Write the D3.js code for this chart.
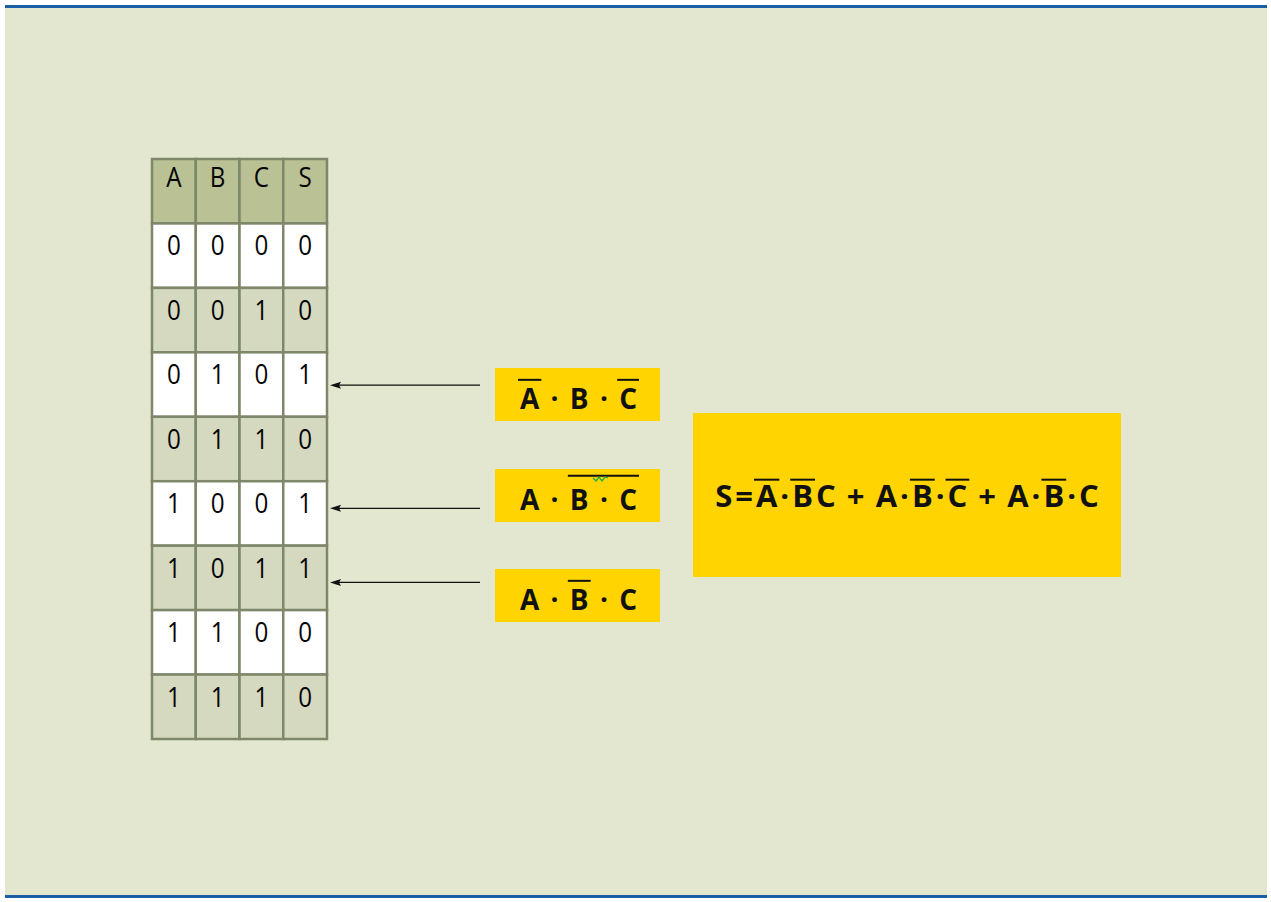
<!DOCTYPE html>
<html><head><meta charset="utf-8">
<script src="https://cdn.jsdelivr.net/npm/d3@7/dist/d3.min.js"></script>
<style>html,body{margin:0;padding:0;background:#fff;}svg{display:block;}</style>
</head><body>
<svg id="chart" width="1271" height="902"></svg>
<script>
// ---- data ----
const columns = ["A", "B", "C", "S"];
const truthRows = [
  [0, 0, 0, 0],
  [0, 0, 1, 0],
  [0, 1, 0, 1],
  [0, 1, 1, 0],
  [1, 0, 0, 1],
  [1, 0, 1, 1],
  [1, 1, 0, 0],
  [1, 1, 1, 0]
];
// minterm labels (token, overline group id)
const termTokens = [
  [{t:"A",bar:1},{t:" · "},{t:"B"},{t:" · "},{t:"C",bar:2}],
  [{t:"A"},{t:" · "},{t:"B",bar:1},{t:" · ",bar:1},{t:"C",bar:1}],
  [{t:"A"},{t:" · "},{t:"B",bar:1},{t:" · "},{t:"C"}]
];
// arrow targets, in table-row units (row 2, 4, 5)
const termRowPos = [2.51, 4.42, 5.57];
const sumTokens = [
  {t:"S"},{t:"="},{t:"A",bar:1},{t:"·"},{t:"B",bar:2},{t:"C"},
  {t:" + "},{t:"A"},{t:"·"},{t:"B",bar:3},{t:"·"},{t:"C",bar:4},
  {t:" + "},{t:"A"},{t:"·"},{t:"B",bar:5},{t:"·"},{t:"C"}
];

// ---- styles ----
const BG = "#e3e7cf", BLUE = "#1a5fa6", GRID = "#7e876a",
      HEAD = "#b9c195", ALT = "#d5d9c0", YEL = "#ffd400";
const FONT = "'Open Sans','Noto Sans',sans-serif";

const svg = d3.select("#chart");
svg.append("rect").attr("x",5).attr("y",7).attr("width",1262).attr("height",889).attr("fill",BG);
svg.append("rect").attr("x",5).attr("y",5).attr("width",1262).attr("height",3).attr("fill",BLUE);
svg.append("rect").attr("x",5).attr("y",895).attr("width",1262).attr("height",3).attr("fill",BLUE);

// ---- table ----
const x = d3.scaleBand().domain(columns).range([152, 327]);
const rowKeys = ["head"].concat(truthRows.map((d,i)=>i));
const y = d3.scaleBand().domain(rowKeys).range([159, 739]);
const rowY = d3.scaleLinear().domain([0, truthRows.length]).range([y(0), y(truthRows.length-1) + y.bandwidth()]);

const cells = [];
rowKeys.forEach((rk, ri) => {
  columns.forEach((c, ci) => {
    cells.push({rk, ri, c, ci,
      fill: rk === "head" ? HEAD : (ri % 2 === 1 ? "#ffffff" : ALT),
      label: rk === "head" ? c : String(truthRows[rk][ci])});
  });
});
const tbl = svg.append("g");
tbl.selectAll("rect").data(cells).join("rect")
  .attr("x", d => x(d.c)).attr("y", d => y(d.rk))
  .attr("width", x.bandwidth()).attr("height", y.bandwidth())
  .attr("fill", d => d.fill).attr("stroke", GRID).attr("stroke-width", 2.5);
tbl.selectAll("text").data(cells).join("text")
  .attr("transform", d => `translate(${x(d.c) + x.bandwidth()/2},${y(d.rk) + (d.rk === "head" ? 28 : 32)}) scale(0.88,1)`)
  .attr("text-anchor","middle")
  .attr("font-family", FONT).attr("font-size", 27.5)
  .attr("fill","#050505").text(d => d.label);

// ---- helper: lay out tokens with overlines ----
function formula(g, tokens, cx, baseline, size, barGap, spacing) {
  const items = [];
  let pos = 0;
  tokens.forEach(tk => {
    const t = g.append("text").attr("font-family", FONT).attr("font-weight", 700)
      .attr("font-size", size).style("white-space","pre")
      .attr("y", baseline).attr("fill","#111").text(tk.t);
    const w = t.node().getComputedTextLength();
    items.push({node:t, x:pos, w:w, tk:tk});
    pos += w + spacing;
  });
  const total = pos - spacing;
  const x0 = cx - total/2;
  items.forEach(it => it.node.attr("x", x0 + it.x));
  const groups = d3.group(items.filter(it => it.tk.bar), it => it.tk.bar);
  groups.forEach(arr => {
    const ext = arr.map(it => {
      const lead = it.tk.t.length - it.tk.t.trimStart().length;
      const trail = it.tk.t.length - it.tk.t.trimEnd().length;
      const sp = size * 0.26;
      return [x0 + it.x + lead*sp - 2, x0 + it.x + it.w - trail*sp + 2];
    });
    const xa = d3.min(ext, d=>d[0]), xb = d3.max(ext, d=>d[1]);
    const yy = baseline - size*0.72 - barGap;
    g.append("line").attr("x1", xa).attr("x2", xb)
      .attr("y1", yy).attr("y2", yy)
      .attr("stroke","#111").attr("stroke-width", 2);
  });
}

// ---- term boxes + arrows ----
const boxY = d3.scaleOrdinal().domain([0,1,2]).range([368, 469, 569]);
const boxX = 495, boxW = 165, boxH = 53;
termTokens.forEach((toks, i) => {
  const g = svg.append("g");
  g.append("rect").attr("x", boxX).attr("y", boxY(i)).attr("width", boxW).attr("height", boxH).attr("fill", YEL);
  const gaps = [9, 14, 9];
  formula(g, toks, boxX + boxW/2 + 1, boxY(i) + 41, 28, gaps[i], 4);
  if (i === 1) {
    g.append("polyline")
      .attr("points", "593,478 596,481 599,477 602,481 605,477 608,478")
      .attr("fill","none").attr("stroke","#1fae4b").attr("stroke-width",1.3);
  }
  const ay = rowY(termRowPos[i]);
  svg.append("line").attr("x1", 480).attr("x2", 338).attr("y1", ay).attr("y2", ay)
    .attr("stroke","#111").attr("stroke-width",1.2);
  svg.append("path").attr("d", `M330,${ay} L341,${ay-3.5} L339,${ay} L341,${ay+3.5} Z`).attr("fill","#111");
});

// ---- sum box ----
const sg = svg.append("g");
sg.append("rect").attr("x", 693).attr("y", 413).attr("width", 428).attr("height", 164).attr("fill", YEL);
formula(sg, sumTokens, 907, 507, 31, 5, 3);
</script>
</body></html>
